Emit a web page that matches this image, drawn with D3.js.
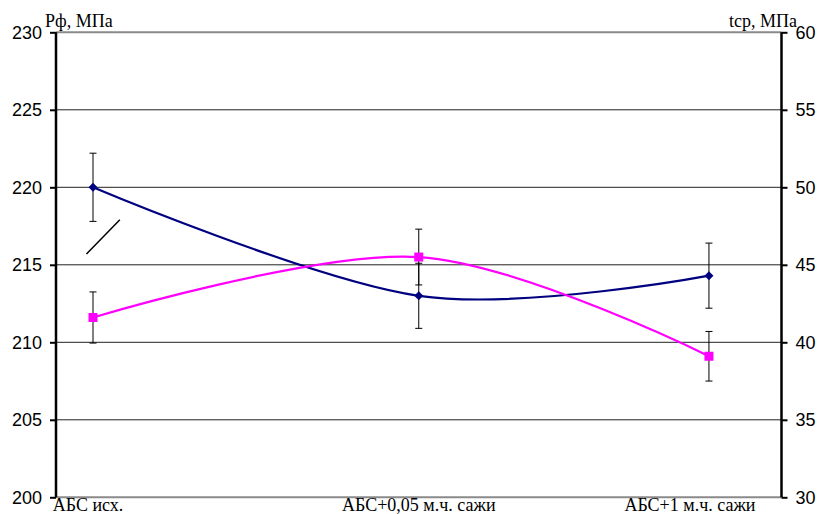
<!DOCTYPE html>
<html><head><meta charset="utf-8">
<script src="https://cdn.jsdelivr.net/npm/d3@7"></script>
<style>body{margin:0;background:#fff}svg{display:block}
.serif{font-family:"Liberation Serif","Times New Roman","DejaVu Serif",serif;font-size:18px}
.num{font-family:"Liberation Sans",Arial,sans-serif;font-size:18px}
</style>
</head><body><svg id="c" width="818" height="514"></svg>
<script>
const categories = ["АБС исх.", "АБС+0,05 м.ч. сажи", "АБС+1 м.ч. сажи"];
const rfValues = [220, 213, 214.3];
const rfErrors = [2.2, 2.1, 2.1];
const tcpValues = [41.6, 45.5, 39.1];
const tcpErrors = [1.65, 1.8, 1.6];
const leftTicks = [200, 205, 210, 215, 220, 225, 230];
const rightTicks = [30, 35, 40, 45, 50, 55, 60];
const leftTitle = "Рф, МПа";
const rightTitle = "tср, МПа";
// stray annotation stroke in left-axis units (x as fraction of plot width)
const annoX = [0.042, 0.088];
const annoY = [215.7, 217.9];

// layout
const L = 56, R = 781.5, T = 32.3, B = 497.3;
const catPos = [0.051, 0.5, 0.9];
const labelShift = [-5, 0, -19];

const svg = d3.select("#c");
const fx = d3.scaleLinear().domain([0, 1]).range([L, R]);
const x = i => fx(catPos[i]);
const yL = d3.scaleLinear().domain([200, 230]).range([B, T]);
const yR = d3.scaleLinear().domain([30, 60]).range([B, T]);

// gridlines
svg.append("g").selectAll("line").data(leftTicks.filter(t => t > 200 && t < 230)).join("line")
  .attr("x1", L).attr("x2", R).attr("y1", d => yL(d)).attr("y2", d => yL(d))
  .attr("stroke", "#222").attr("stroke-width", 1);
// top & bottom border lines (gray)
svg.append("g").selectAll("line").data([200, 230]).join("line")
  .attr("x1", L).attr("x2", R).attr("y1", d => yL(d)).attr("y2", d => yL(d))
  .attr("stroke", "#8a8a8a").attr("stroke-width", 2);

// axes
const axL = d3.axisLeft(yL).tickValues(leftTicks).tickSize(6).tickPadding(8).tickFormat(d3.format("d"));
const gL = svg.append("g").attr("transform", `translate(${L},0)`).call(axL);
const axR = d3.axisRight(yR).tickValues(rightTicks).tickSize(6).tickPadding(8).tickFormat(d3.format("d"));
const gR = svg.append("g").attr("transform", `translate(${R},0)`).call(axR);
[gL, gR].forEach(g => {
  g.attr("font-family", null).attr("font-size", null);
  g.select(".domain").attr("stroke", "#000").attr("stroke-width", 2.5).attr("d", `M0,${T}V${B}`);
  g.selectAll(".tick line").attr("stroke", "#000").attr("stroke-width", 2);
  g.selectAll(".tick text").attr("class", "num").attr("fill", "#000");
});

// axis titles
svg.append("text").attr("class", "serif").attr("x", 45).attr("y", 27).text(leftTitle);
svg.append("text").attr("class", "serif").attr("x", 797).attr("y", 27).attr("text-anchor", "end").text(rightTitle);

// category labels
svg.append("g").selectAll("text").data(categories).join("text").attr("class", "serif")
  .attr("x", (d, i) => x(i) + labelShift[i]).attr("y", 511).attr("text-anchor", "middle")
  .text(d => d);

// error bars
function errBars(vals, errs, y) {
  const g = svg.append("g").attr("stroke", "#000").attr("stroke-width", 1);
  vals.forEach((v, i) => {
    const cx = x(i);
    g.append("line").attr("x1", cx).attr("x2", cx).attr("y1", y(v - errs[i])).attr("y2", y(v + errs[i]));
    [v - errs[i], v + errs[i]].forEach(e => g.append("line")
      .attr("x1", cx - 3.5).attr("x2", cx + 3.5).attr("y1", y(e)).attr("y2", y(e)));
  });
}
errBars(rfValues, rfErrors, yL);
errBars(tcpValues, tcpErrors, yR);

// annotation stroke
svg.append("line").attr("x1", fx(annoX[0])).attr("y1", yL(annoY[0]))
  .attr("x2", fx(annoX[1])).attr("y2", yL(annoY[1])).attr("stroke", "#000").attr("stroke-width", 1.5);

// lines
const curve = d3.curveCardinal.tension(0);
svg.append("path").datum(rfValues)
  .attr("d", d3.line().x((d, i) => x(i)).y(d => yL(d)).curve(curve))
  .attr("fill", "none").attr("stroke", "#000080").attr("stroke-width", 2.2);
svg.append("path").datum(tcpValues)
  .attr("d", d3.line().x((d, i) => x(i)).y(d => yR(d)).curve(curve))
  .attr("fill", "none").attr("stroke", "#FF00FF").attr("stroke-width", 2.2);

// markers
svg.append("g").selectAll("path").data(rfValues).join("path")
  .attr("transform", (d, i) => `translate(${x(i)},${yL(d)})`)
  .attr("d", "M0,-4.5L4.5,0L0,4.5L-4.5,0Z").attr("fill", "#000080");
svg.append("g").selectAll("rect").data(tcpValues).join("rect")
  .attr("x", (d, i) => x(i) - 4.5).attr("y", d => yR(d) - 4.5)
  .attr("width", 9).attr("height", 9).attr("fill", "#FF00FF");
</script></body></html>
